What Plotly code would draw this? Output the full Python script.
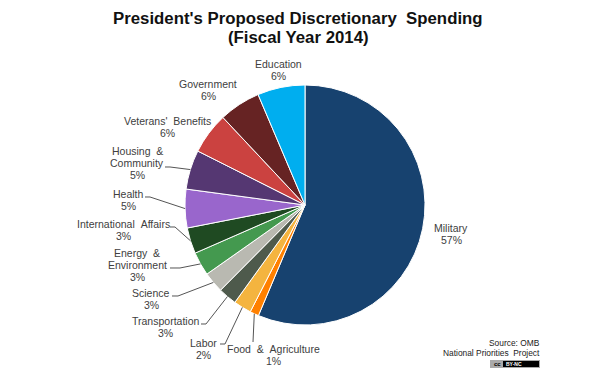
import math
import plotly.graph_objects as go

categories = ["Military", "Food  &  Agriculture", "Labor", "Transportation", "Science",
              "Energy  &<br>Environment", "International  Affairs", "Health",
              "Housing  &<br>Community", "Veterans'  Benefits", "Government", "Education"]
values = [56.4, 1.2, 2.4, 2.5, 2.8, 3.2, 3.5, 5.2, 5.3, 5.6, 5.6, 6.4]
shown_pct = [57, 1, 2, 3, 3, 3, 3, 5, 5, 6, 6, 6]
colors = ["#17426f", "#ff8000", "#f4b43f", "#4e5a4c", "#b9b9b1", "#44994f",
          "#1f4a22", "#9966cc", "#553772", "#cb4240", "#662323", "#00aeef"]

W, H = 596, 381
CX, CY, R = 305, 205, 120
label_pos = [(451, 234), (273, 355), (203, 349), (165, 327), (151, 299), (137, 265),
             (123, 230), (128, 200), (137, 163), (167, 127), (208, 90), (278, 70)]
# leader-line start and elbow (page pixels); None = no leader
leaders = [None, [(253, 342), (253, 342)], [(220, 344), (225, 344)], [(201, 324), (206, 324)],
           [(172, 296), (178, 296)], [(170, 268), (180, 268)], [(170, 227), (175, 227)],
           [(145, 197), (150, 197)], [(165, 167), (170, 167)], None, None, None]

fig = go.Figure(go.Pie(
    labels=[" ".join(c.replace("<br>", " ").split()) for c in categories], values=values, sort=False,
    direction="clockwise", rotation=0, textinfo="none", hoverinfo="label+percent",
    marker=dict(colors=colors, line=dict(color="#ffffff", width=1)),
    domain=dict(x=[(CX - R) / W, (CX + R) / W], y=[(H - CY - R) / H, (H - CY + R) / H]),
    showlegend=False))

FONT = "Liberation Sans, Arial, sans-serif"
anns, shapes = [], []


def text_block(lines, x, y, spacing, size, color, xanchor="center", bold=False):
    """One annotation per line so the line spacing can match the reference."""
    top = y - spacing * (len(lines) - 1) / 2
    for i, line in enumerate(lines):
        t = line.replace("  ", "\u00a0\u00a0")
        anns.append(dict(x=x / W, y=1 - (top + i * spacing) / H, xref="paper", yref="paper",
                         showarrow=False, xanchor=xanchor, yanchor="middle",
                         text=f"<b>{t}</b>" if bold else t,
                         font=dict(family=FONT, size=size, color=color)))


cum = 0
total = sum(values)
for cat, v, pct, (lx, ly), lead in zip(categories, values, shown_pct, label_pos, leaders):
    mid = (cum + v / 2) / total * 2 * math.pi
    cum += v
    text_block(cat.split("<br>") + [f"{pct}%"], lx, ly, 11.8, 10.5, "#404040")
    if lead:
        ex, ey = CX + R * math.sin(mid), CY - R * math.cos(mid)
        pts = lead + [(ex, ey)]
        shapes.append(dict(type="path", xref="paper", yref="paper",
                           path="M " + " L ".join(f"{x / W:.5f},{1 - y / H:.5f}" for x, y in pts),
                           line=dict(color="#555555", width=1)))

text_block(["President's Proposed Discretionary  Spending", "(Fiscal Year 2014)"], 298, 28.5, 19, 16.8,
           "#111111", bold=True)
text_block(["Source: OMB"], 542, 343, 9.5, 8.4, "#222222", xanchor="right")
text_block(["National Priorities  Project"], 542, 352.5, 9.5, 8.4, "#222222", xanchor="right")
# CC BY-NC badge
shapes.append(dict(type="rect", xref="paper", yref="paper", x0=490 / W, x1=540 / W, y0=1 - 368 / H, y1=1 - 360 / H,
                   fillcolor="#aaaaaa", line=dict(width=0)))
shapes.append(dict(type="rect", xref="paper", yref="paper", x0=503 / W, x1=539 / W, y0=1 - 367 / H, y1=1 - 361 / H,
                   fillcolor="#000000", line=dict(width=0)))
text_block(["cc"], 497, 364, 6, 6, "#000000", bold=True)
text_block(["BY-NC"], 514, 364, 6, 5, "#ffffff", bold=True)

fig.update_layout(width=W, height=H, margin=dict(l=0, r=0, t=0, b=0), paper_bgcolor="#ffffff",
                  annotations=anns, shapes=shapes)
fig.write_html("out.html", post_script="document.body.style.margin='0';", config=dict(displayModeBar=False))
